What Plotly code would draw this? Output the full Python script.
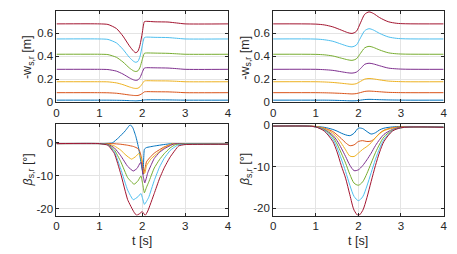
import plotly.graph_objects as go

COLORS = ["#0072BD", "#D95319", "#EDB120", "#7E2F8E", "#77AC30", "#4DBEEE", "#A2142F"]

# ---------------- top-left: -w_s,r [m] ----------------
t_tl = [0, 1.0, 1.2, 1.4, 1.55, 1.7, 1.8, 1.85, 1.9, 1.95, 2.0, 2.05, 2.1, 2.3, 2.6, 2.8, 3.0, 4]
tl_blue   = [0.018, 0.018, 0.018, 0.017, 0.016, 0.014, 0.013, 0.012, 0.013, 0.014, 0.017, 0.020, 0.021, 0.021, 0.020, 0.019, 0.018, 0.018]
tl_orange = [0.083, 0.083, 0.082, 0.078, 0.071, 0.063, 0.059, 0.058, 0.059, 0.065, 0.076, 0.090, 0.092, 0.091, 0.090, 0.087, 0.083, 0.083]
tl_yellow = [0.178, 0.178, 0.177, 0.168, 0.153, 0.133, 0.122, 0.120, 0.122, 0.135, 0.160, 0.185, 0.187, 0.186, 0.185, 0.182, 0.178, 0.178]
tl_purple = [0.286, 0.286, 0.284, 0.270, 0.245, 0.212, 0.194, 0.190, 0.194, 0.215, 0.260, 0.297, 0.300, 0.299, 0.297, 0.292, 0.286, 0.286]
tl_green  = [0.417, 0.417, 0.414, 0.390, 0.350, 0.298, 0.272, 0.267, 0.273, 0.305, 0.370, 0.425, 0.428, 0.427, 0.425, 0.421, 0.417, 0.417]
tl_cyan   = [0.550, 0.550, 0.546, 0.515, 0.460, 0.390, 0.355, 0.347, 0.355, 0.400, 0.490, 0.562, 0.566, 0.564, 0.562, 0.556, 0.550, 0.550]
tl_red    = [0.681, 0.681, 0.676, 0.640, 0.575, 0.490, 0.443, 0.430, 0.443, 0.500, 0.600, 0.700, 0.703, 0.699, 0.697, 0.689, 0.681, 0.681]

# ---------------- top-right: -w_s,r [m] ----------------
t_tr = [0, 1.0, 1.2, 1.4, 1.6, 1.75, 1.85, 1.95, 2.05, 2.15, 2.25, 2.35, 2.5, 2.7, 2.9, 3.1, 4]
tr_blue   = [0.018, 0.018, 0.018, 0.017, 0.015, 0.013, 0.012, 0.013, 0.018, 0.023, 0.025, 0.024, 0.022, 0.020, 0.019, 0.018, 0.018]
tr_orange = [0.083, 0.083, 0.082, 0.080, 0.077, 0.074, 0.072, 0.075, 0.084, 0.094, 0.097, 0.095, 0.091, 0.086, 0.084, 0.083, 0.083]
tr_yellow = [0.178, 0.178, 0.176, 0.172, 0.165, 0.159, 0.156, 0.161, 0.181, 0.201, 0.206, 0.203, 0.194, 0.184, 0.180, 0.178, 0.178]
tr_purple = [0.286, 0.286, 0.283, 0.277, 0.265, 0.256, 0.253, 0.261, 0.292, 0.330, 0.339, 0.333, 0.317, 0.297, 0.290, 0.287, 0.286]
tr_green  = [0.417, 0.416, 0.412, 0.402, 0.383, 0.369, 0.364, 0.376, 0.425, 0.473, 0.486, 0.477, 0.454, 0.430, 0.421, 0.418, 0.417]
tr_cyan   = [0.550, 0.549, 0.543, 0.530, 0.505, 0.487, 0.481, 0.496, 0.560, 0.622, 0.639, 0.628, 0.598, 0.568, 0.555, 0.551, 0.550]
tr_red    = [0.681, 0.679, 0.672, 0.655, 0.627, 0.605, 0.598, 0.615, 0.690, 0.765, 0.785, 0.772, 0.735, 0.700, 0.686, 0.682, 0.681]

# ---------------- bottom-left: beta_s,r [deg] ----------------
bl_blue_t = [0, 1.0, 1.3, 1.45, 1.6, 1.72, 1.78, 1.85, 1.92, 1.97, 2.02, 2.05, 2.1, 2.3, 2.5, 2.7, 3.0, 4]
bl_blue   = [-0.3, -0.3, -0.1, 1.5, 3.5, 5.4, 4.5, 1.9, -1.9, -6.0, -9.6, -2.0, -1.5, -1.0, -0.6, -0.3, -0.4, -0.5]
bl_orange_t = [0, 1.0, 1.3, 1.5, 1.66, 1.8, 1.9, 1.95, 2.0, 2.03, 2.07, 2.1, 2.2, 2.3, 2.5, 2.7, 3.0, 4]
bl_orange   = [-0.3, -0.3, -0.3, -0.5, -0.8, -1.2, -1.8, -2.9, -5.8, -9.4, -7.5, -5.8, -4.2, -3.0, -1.4, -0.4, -0.3, -0.5]
bl_yellow_t = [0, 1.0, 1.2, 1.35, 1.5, 1.62, 1.75, 1.85, 1.92, 1.97, 2.03, 2.06, 2.1, 2.2, 2.3, 2.5, 2.7, 3.0, 4]
bl_yellow   = [-0.3, -0.3, -0.4, -1.0, -2.3, -3.8, -5.0, -4.2, -3.3, -4.5, -9.0, -9.3, -7.0, -5.0, -3.8, -1.7, -0.4, -0.3, -0.5]
bl_purple_t = [0, 1.0, 1.2, 1.35, 1.5, 1.66, 1.79, 1.88, 1.95, 1.98, 2.02, 2.06, 2.13, 2.2, 2.28, 2.4, 2.51, 2.74, 3.0, 4]
bl_purple   = [-0.3, -0.3, -0.5, -1.6, -4.0, -7.2, -8.6, -7.8, -6.2, -6.0, -10.0, -12.2, -9.1, -7.0, -4.8, -3.0, -1.9, -0.4, -0.3, -0.5]
bl_green_t = [0, 1.0, 1.2, 1.35, 1.5, 1.66, 1.81, 1.9, 1.97, 2.01, 2.05, 2.1, 2.15, 2.28, 2.4, 2.51, 2.65, 2.78, 3.0, 4]
bl_green   = [-0.3, -0.3, -0.6, -2.2, -5.8, -10.6, -12.6, -11.6, -10.1, -12.5, -15.2, -13.5, -12.0, -7.7, -5.2, -3.4, -1.6, -0.6, -0.4, -0.5]
bl_cyan_t = [0, 1.0, 1.2, 1.35, 1.5, 1.66, 1.79, 1.9, 1.97, 2.01, 2.05, 2.1, 2.15, 2.28, 2.4, 2.51, 2.65, 2.82, 3.0, 4]
bl_cyan   = [-0.3, -0.3, -0.7, -2.8, -8.0, -14.4, -17.3, -16.4, -15.4, -17.0, -18.7, -17.8, -16.6, -11.5, -7.5, -4.8, -2.4, -0.8, -0.5, -0.5]
bl_red_t = [0, 1.0, 1.2, 1.35, 1.5, 1.66, 1.81, 1.87, 1.94, 2.0, 2.07, 2.13, 2.28, 2.4, 2.51, 2.65, 2.85, 3.0, 4]
bl_red   = [-0.3, -0.3, -0.8, -3.3, -9.5, -17.3, -21.1, -22.0, -21.5, -20.9, -22.0, -20.7, -15.4, -11.0, -7.7, -4.4, -1.0, -0.6, -0.5]

# ---------------- bottom-right: beta_s,r [deg] ----------------
t_br = [0, 0.8, 1.0, 1.2, 1.4, 1.5, 1.6, 1.7, 1.8, 1.9, 2.0, 2.1, 2.2, 2.3, 2.4, 2.5, 2.6, 2.8, 3.0, 3.4, 4]
br_blue   = [-0.3, -0.3, -0.4, -0.6, -1.1, -1.5, -2.0, -2.4, -2.6, -2.0, -0.8, -0.9, -1.6, -2.2, -1.9, -1.2, -0.8, -0.5, -0.4, -0.4, -0.5]
br_orange = [-0.3, -0.3, -0.4, -0.8, -1.6, -2.4, -3.3, -4.3, -5.0, -4.8, -4.0, -3.8, -4.0, -3.9, -3.1, -2.0, -1.3, -0.7, -0.5, -0.5, -0.6]
br_yellow = [-0.3, -0.3, -0.4, -0.9, -2.0, -3.0, -4.4, -6.0, -7.5, -7.6, -6.8, -5.9, -5.2, -4.3, -3.1, -2.1, -1.4, -0.8, -0.5, -0.5, -0.6]
br_purple = [-0.3, -0.3, -0.5, -1.1, -2.5, -3.8, -5.6, -7.6, -9.7, -11.0, -10.8, -9.8, -8.4, -6.8, -5.0, -3.5, -2.3, -1.1, -0.6, -0.5, -0.6]
br_green  = [-0.3, -0.3, -0.5, -1.2, -2.9, -4.6, -6.8, -9.2, -11.9, -14.0, -14.5, -13.7, -11.7, -9.2, -6.7, -4.6, -2.9, -1.3, -0.7, -0.5, -0.6]
br_cyan   = [-0.3, -0.3, -0.5, -1.3, -3.4, -5.5, -8.2, -11.2, -14.5, -17.2, -18.2, -17.3, -14.7, -11.5, -8.3, -5.6, -3.5, -1.4, -0.7, -0.5, -0.6]
br_red    = [-0.3, -0.3, -0.5, -1.5, -4.0, -6.5, -9.8, -12.8, -16.8, -20.5, -21.8, -20.6, -17.5, -13.6, -9.8, -6.5, -4.0, -1.5, -0.7, -0.5, -0.6]

x_ticks = [0, 1, 2, 3, 4]
x_ticktext = ["0", "1", "2", "3", "4"]
w_ticks = [0, 0.2, 0.4, 0.6]
w_ticktext = ["0", "0.2", "0.4", "0.6"]
b_ticks = [-20, -10, 0]
b_ticktext = ["-20", "-10", "0"]

fig = go.Figure()

def add(xs, ys, color, xa, ya, smooth=0.6):
    fig.add_trace(go.Scatter(x=xs, y=ys, mode="lines", xaxis=xa, yaxis=ya,
                             line=dict(color=color, width=1.0, shape="spline", smoothing=smooth),
                             showlegend=False, hoverinfo="skip"))

for ys, c in zip([tl_blue, tl_orange, tl_yellow, tl_purple, tl_green, tl_cyan, tl_red], COLORS):
    add(t_tl, ys, c, "x", "y")
for ys, c in zip([tr_blue, tr_orange, tr_yellow, tr_purple, tr_green, tr_cyan, tr_red], COLORS):
    add(t_tr, ys, c, "x2", "y2", 0.8)
bl = [(bl_blue_t, bl_blue), (bl_orange_t, bl_orange), (bl_yellow_t, bl_yellow),
      (bl_purple_t, bl_purple), (bl_green_t, bl_green), (bl_cyan_t, bl_cyan), (bl_red_t, bl_red)]
for (xs, ys), c in zip(bl, COLORS):
    add(xs, ys, c, "x3", "y3", 0.4)
for ys, c in zip([br_blue, br_orange, br_yellow, br_purple, br_green, br_cyan, br_red], COLORS):
    add(t_br, ys, c, "x4", "y4", 0.8)

W, H = 457, 254
def dx(a, b): return [a / W, b / W]
def dy(top, bot): return [1 - bot / H, 1 - top / H]

FONT = dict(family="Liberation Sans, Arial, sans-serif", size=11.5, color="#262626")
common = dict(showline=True, linecolor="#262626", linewidth=1, mirror="ticks",
              ticks="inside", ticklen=3, tickcolor="#262626", tickwidth=1,
              showgrid=True, gridcolor="#e4e4e4", gridwidth=1, zeroline=False,
              tickfont=FONT)

LX = dx(54.3, 228.5)
RX = dx(274.3, 447.5)
TY = dy(5, 101)
BY = dy(124.3, 220)
XR = [-0.0005, 4.0005]

fig.update_layout(
    width=W, height=H, margin=dict(l=0, r=0, t=0, b=0),
    paper_bgcolor="white", plot_bgcolor="white", font=FONT,
    xaxis=dict(domain=LX, anchor="y", range=XR, tickvals=x_ticks, ticktext=x_ticktext, **common),
    yaxis=dict(domain=TY, anchor="x", range=[0, 0.795], tickvals=w_ticks, ticktext=w_ticktext, **common),
    xaxis2=dict(domain=RX, anchor="y2", range=XR, tickvals=x_ticks, ticktext=x_ticktext, **common),
    yaxis2=dict(domain=TY, anchor="x2", range=[0, 0.795], tickvals=w_ticks, ticktext=w_ticktext, **common),
    xaxis3=dict(domain=LX, anchor="y3", range=XR, tickvals=x_ticks, ticktext=x_ticktext, **common),
    yaxis3=dict(domain=BY, anchor="x3", range=[-22.1, 5.5], tickvals=b_ticks, ticktext=b_ticktext, **common),
    xaxis4=dict(domain=RX, anchor="y4", range=XR, tickvals=x_ticks, ticktext=x_ticktext, **common),
    yaxis4=dict(domain=BY, anchor="x4", range=[-21.8, 0.1], tickvals=b_ticks, ticktext=b_ticktext, **common),
)

ann = []
def ytitle(text, xpx, ypx):
    ann.append(dict(text=text, x=xpx / W, y=1 - ypx / H, xref="paper", yref="paper",
                    textangle=-90, showarrow=False, font=dict(FONT, size=12.5),
                    xanchor="center", yanchor="middle"))
def xtitle(text, xpx, ypx):
    ann.append(dict(text=text, x=xpx / W, y=1 - ypx / H, xref="paper", yref="paper",
                    showarrow=False, font=dict(FONT, size=12.5), xanchor="center", yanchor="middle"))

ytitle("-w<sub>s,r</sub> [m]", 26, 54)
ytitle("-w<sub>s,r</sub> [m]", 247, 54)
ytitle("<i>β</i><sub>s,r</sub> [°]", 26, 172)
ytitle("<i>β</i><sub>s,r</sub> [°]", 247, 172)
xtitle("t [s]", 141.4, 246.5)
xtitle("t [s]", 360.9, 246.5)
fig.update_layout(annotations=ann)

fig.write_html("out.html", config={"displayModeBar": False},
               post_script="document.body.style.margin='0px';document.body.style.overflow='hidden';")
